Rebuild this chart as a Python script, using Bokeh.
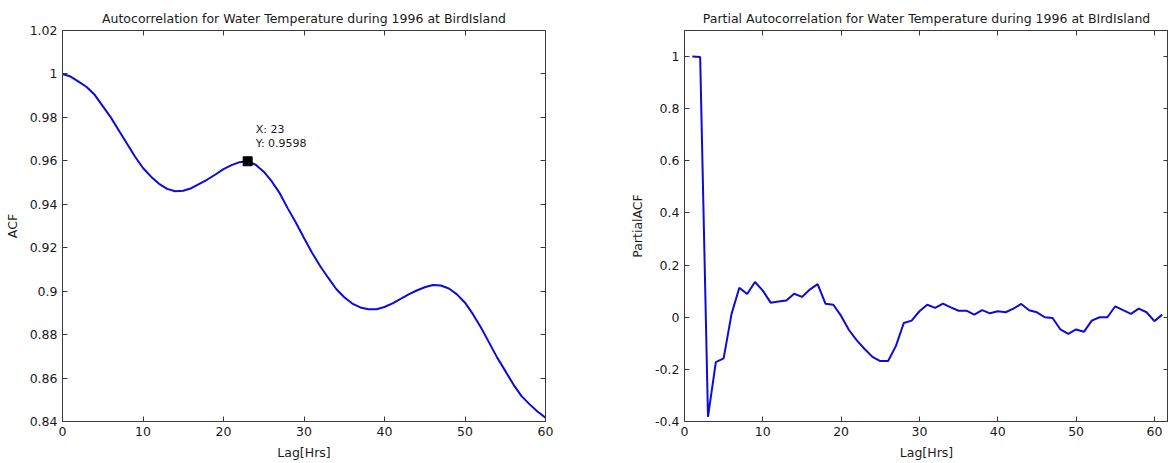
from bokeh.plotting import figure
from bokeh.layouts import row
from bokeh.models import LinearAxis, FixedTicker, CustomJSTickFormatter, Range1d
from bokeh.embed import file_html
from bokeh.resources import INLINE

# ---------------- data ----------------
acf_lag = list(range(61))
acf_values = [1.0000, 0.9988, 0.9965, 0.9940, 0.9904, 0.9852, 0.9800, 0.9740, 0.9680, 0.9620,
              0.9567, 0.9527, 0.9494, 0.9471, 0.9460, 0.9462, 0.9474, 0.9494, 0.9514, 0.9537,
              0.9562, 0.9580, 0.9594, 0.9598, 0.9582, 0.9550, 0.9505, 0.9450, 0.9380, 0.9315,
              0.9245, 0.9177, 0.9116, 0.9062, 0.9010, 0.8972, 0.8943, 0.8925, 0.8917, 0.8917,
              0.8927, 0.8944, 0.8965, 0.8985, 0.9003, 0.9018, 0.9028, 0.9026, 0.9012, 0.8985,
              0.8947, 0.8893, 0.8832, 0.8763, 0.8694, 0.8633, 0.8571, 0.8518, 0.8480, 0.8446,
              0.8418]

pacf_lag = list(range(1, 62))
pacf_values = [1.000, 0.998, -0.382, -0.172, -0.158, 0.012, 0.113, 0.089, 0.135, 0.102,
               0.056, 0.060, 0.064, 0.090, 0.078, 0.106, 0.127, 0.052, 0.048, 0.005,
               -0.049, -0.089, -0.122, -0.152, -0.168, -0.168, -0.110, -0.022, -0.013, 0.023,
               0.048, 0.036, 0.052, 0.038, 0.025, 0.025, 0.010, 0.027, 0.015, 0.023,
               0.019, 0.033, 0.051, 0.027, 0.019, 0.000, -0.003, -0.047, -0.064, -0.047,
               -0.056, -0.013, 0.000, 0.000, 0.042, 0.027, 0.013, 0.033, 0.019, -0.015,
               0.010]

tip_x = [23]
tip_y = [0.9598]

x_ticks = [0, 10, 20, 30, 40, 50, 60]
acf_y_ticks = [0.84, 0.86, 0.88, 0.90, 0.92, 0.94, 0.96, 0.98, 1.00, 1.02]
pacf_y_ticks = [-0.4, -0.2, 0.0, 0.2, 0.4, 0.6, 0.8, 1.0]

acf_title = "Autocorrelation for Water Temperature during 1996 at BirdIsland"
pacf_title = "Partial Autocorrelation for Water Temperature during 1996 at BIrdIsland"
x_label = "Lag[Hrs]"
acf_ylabel = "ACF"
pacf_ylabel = "PartialACF"

# ---------------- style ----------------
FONT = "DejaVu Sans"
FS = "12.5px"
TXT = "#1a1a1a"
BOX = "#3a3a3a"
LINE = "#0c0cd4"


def fmt(decimals):
    return CustomJSTickFormatter(code="return String(Number(tick.toFixed(%d)));" % decimals)


def style_axis(ax, ticks, decimals):
    ax.ticker = FixedTicker(ticks=ticks)
    ax.formatter = fmt(decimals)
    ax.major_tick_in = 5
    ax.major_tick_out = 0
    ax.minor_tick_line_color = None
    ax.major_tick_line_color = BOX
    ax.axis_line_color = BOX
    ax.major_label_text_font = FONT
    ax.major_label_text_font_size = FS
    ax.major_label_text_color = TXT
    ax.axis_label_text_font = FONT
    ax.axis_label_text_font_size = FS
    ax.axis_label_text_font_style = "normal"
    ax.axis_label_text_color = TXT


def blank_axis(ticks):
    return LinearAxis(ticker=FixedTicker(ticks=ticks),
                      formatter=CustomJSTickFormatter(code="return '';"),
                      major_tick_in=5, major_tick_out=0, minor_tick_line_color=None,
                      major_tick_line_color=BOX, axis_line_color=BOX,
                      major_label_standoff=0, major_label_text_font_size="0px")


def make_fig(width, xr, yr, title, ylabel, yticks, ydec, borders):
    l, r, t, b = borders
    p = figure(width=width, height=463, x_range=xr, y_range=yr,
               output_backend="svg", toolbar_location=None,
               min_border_left=l, min_border_right=r, min_border_top=t, min_border_bottom=b)
    p.grid.visible = False
    p.outline_line_color = BOX
    p.background_fill_color = "white"
    p.border_fill_color = "white"
    p.title.text = title
    p.title.align = "center"
    p.title.text_font = FONT
    p.title.text_font_size = FS
    p.title.text_font_style = "normal"
    p.title.text_color = TXT
    p.title.standoff = 10
    style_axis(p.xaxis[0], x_ticks, 0)
    style_axis(p.yaxis[0], yticks, ydec)
    p.xaxis[0].axis_label = x_label
    p.xaxis[0].axis_label_standoff = 6
    p.yaxis[0].axis_label = ylabel
    p.yaxis[0].axis_label_standoff = 7
    p.add_layout(blank_axis(x_ticks), "above")
    p.add_layout(blank_axis(yticks), "right")
    return p


p1 = make_fig(600, Range1d(0, 60), Range1d(0.84, 1.02), acf_title, acf_ylabel,
              acf_y_ticks, 2, (62, 55, 29, 42))
p1.line(acf_lag, acf_values, line_color=LINE, line_width=2)
p1.scatter(tip_x, tip_y, marker="square", size=9, fill_color="black", line_color="black")
p1.text(tip_x, tip_y, text=["X: %d" % v for v in tip_x], x_offset=8, y_offset=-32,
        text_font_size="11px", text_baseline="middle", text_align="left",
        text_color=TXT, text_font={"value": FONT})
p1.text(tip_x, tip_y, text=["Y: %.4f" % v for v in tip_y], x_offset=8, y_offset=-18,
        text_font_size="11px", text_baseline="middle", text_align="left",
        text_color=TXT, text_font={"value": FONT})

p2 = make_fig(568, Range1d(0, 61.8), Range1d(-0.4, 1.1), pacf_title, pacf_ylabel,
              pacf_y_ticks, 1, (84, 0, 30, 41))
p2.line(pacf_lag, pacf_values, line_color=LINE, line_width=2)

layout = row(p1, p2)
open("out.html", "w").write(file_html(layout, INLINE))
